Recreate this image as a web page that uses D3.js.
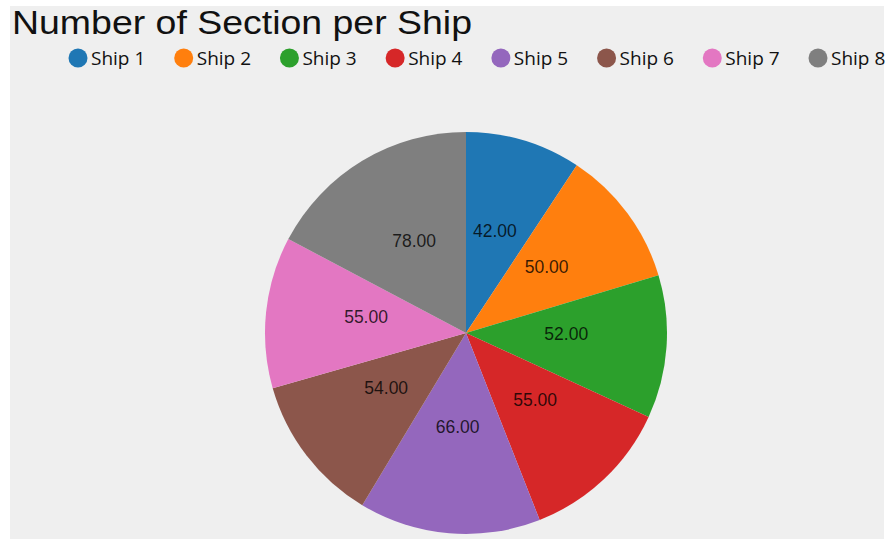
<!DOCTYPE html>
<html>
<head>
<meta charset="utf-8">
<script src="https://cdn.jsdelivr.net/npm/d3@7"></script>
<style>
  html, body { margin: 0; padding: 0; background: #ffffff; }
  svg { display: block; }
</style>
</head>
<body>
<svg id="chart" width="885" height="539"></svg>
<script>
const title = "Number of Section per Ship";
const ships = ["Ship 1", "Ship 2", "Ship 3", "Ship 4", "Ship 5", "Ship 6", "Ship 7", "Ship 8"];
const sections = [42, 50, 52, 55, 66, 54, 55, 78];
const colors = ["#1f77b4", "#ff7f0e", "#2ca02c", "#d62728", "#9467bd", "#8c564b", "#e377c2", "#7f7f7f"];

const W = 885, H = 539;
const svg = d3.select("#chart");

svg.append("rect")
  .attr("x", 10).attr("y", 6)
  .attr("width", 874).attr("height", H - 6)
  .attr("fill", "#efefef");

svg.append("text")
  .attr("x", 12).attr("y", 34)
  .attr("font-family", "'Liberation Sans', Arial, sans-serif")
  .attr("font-size", 34)
  .attr("textLength", 460)
  .attr("lengthAdjust", "spacingAndGlyphs")
  .attr("fill", "#111")
  .text(title);

const color = d3.scaleOrdinal().domain(ships).range(colors);

// legend
const lx = d3.scalePoint().domain(ships).range([78, 818]);
const leg = svg.append("g").selectAll("g").data(ships).join("g")
  .attr("transform", d => `translate(${lx(d)},58)`);
leg.append("circle").attr("r", 9.5).attr("fill", d => color(d));
leg.append("text")
  .attr("x", 13).attr("y", 7)
  .attr("font-family", "'Open Sans', sans-serif")
  .attr("font-size", 19)
  .attr("fill", "#111")
  .text(d => d);

// pie
const cx = 466, cy = 333, R = 201;
const pie = d3.pie().sort(null).value((d, i) => sections[i]);
const arcs = pie(ships);
const arc = d3.arc().innerRadius(0).outerRadius(R);

const g = svg.append("g").attr("transform", `translate(${cx},${cy})`);
g.selectAll("path").data(arcs).join("path")
  .attr("d", arc)
  .attr("fill", d => color(d.data));

g.selectAll("text").data(arcs).join("text")
  .attr("transform", d => `translate(${arc.centroid(d)})`)
  .attr("text-anchor", "middle")
  .attr("font-family", "'Liberation Sans', Arial, sans-serif")
  .attr("font-size", 17.5)
  .attr("fill", "#000")
  .attr("fill-opacity", 0.78)
  .text(d => d3.format(".2f")(d.value));
</script>
</body>
</html>
